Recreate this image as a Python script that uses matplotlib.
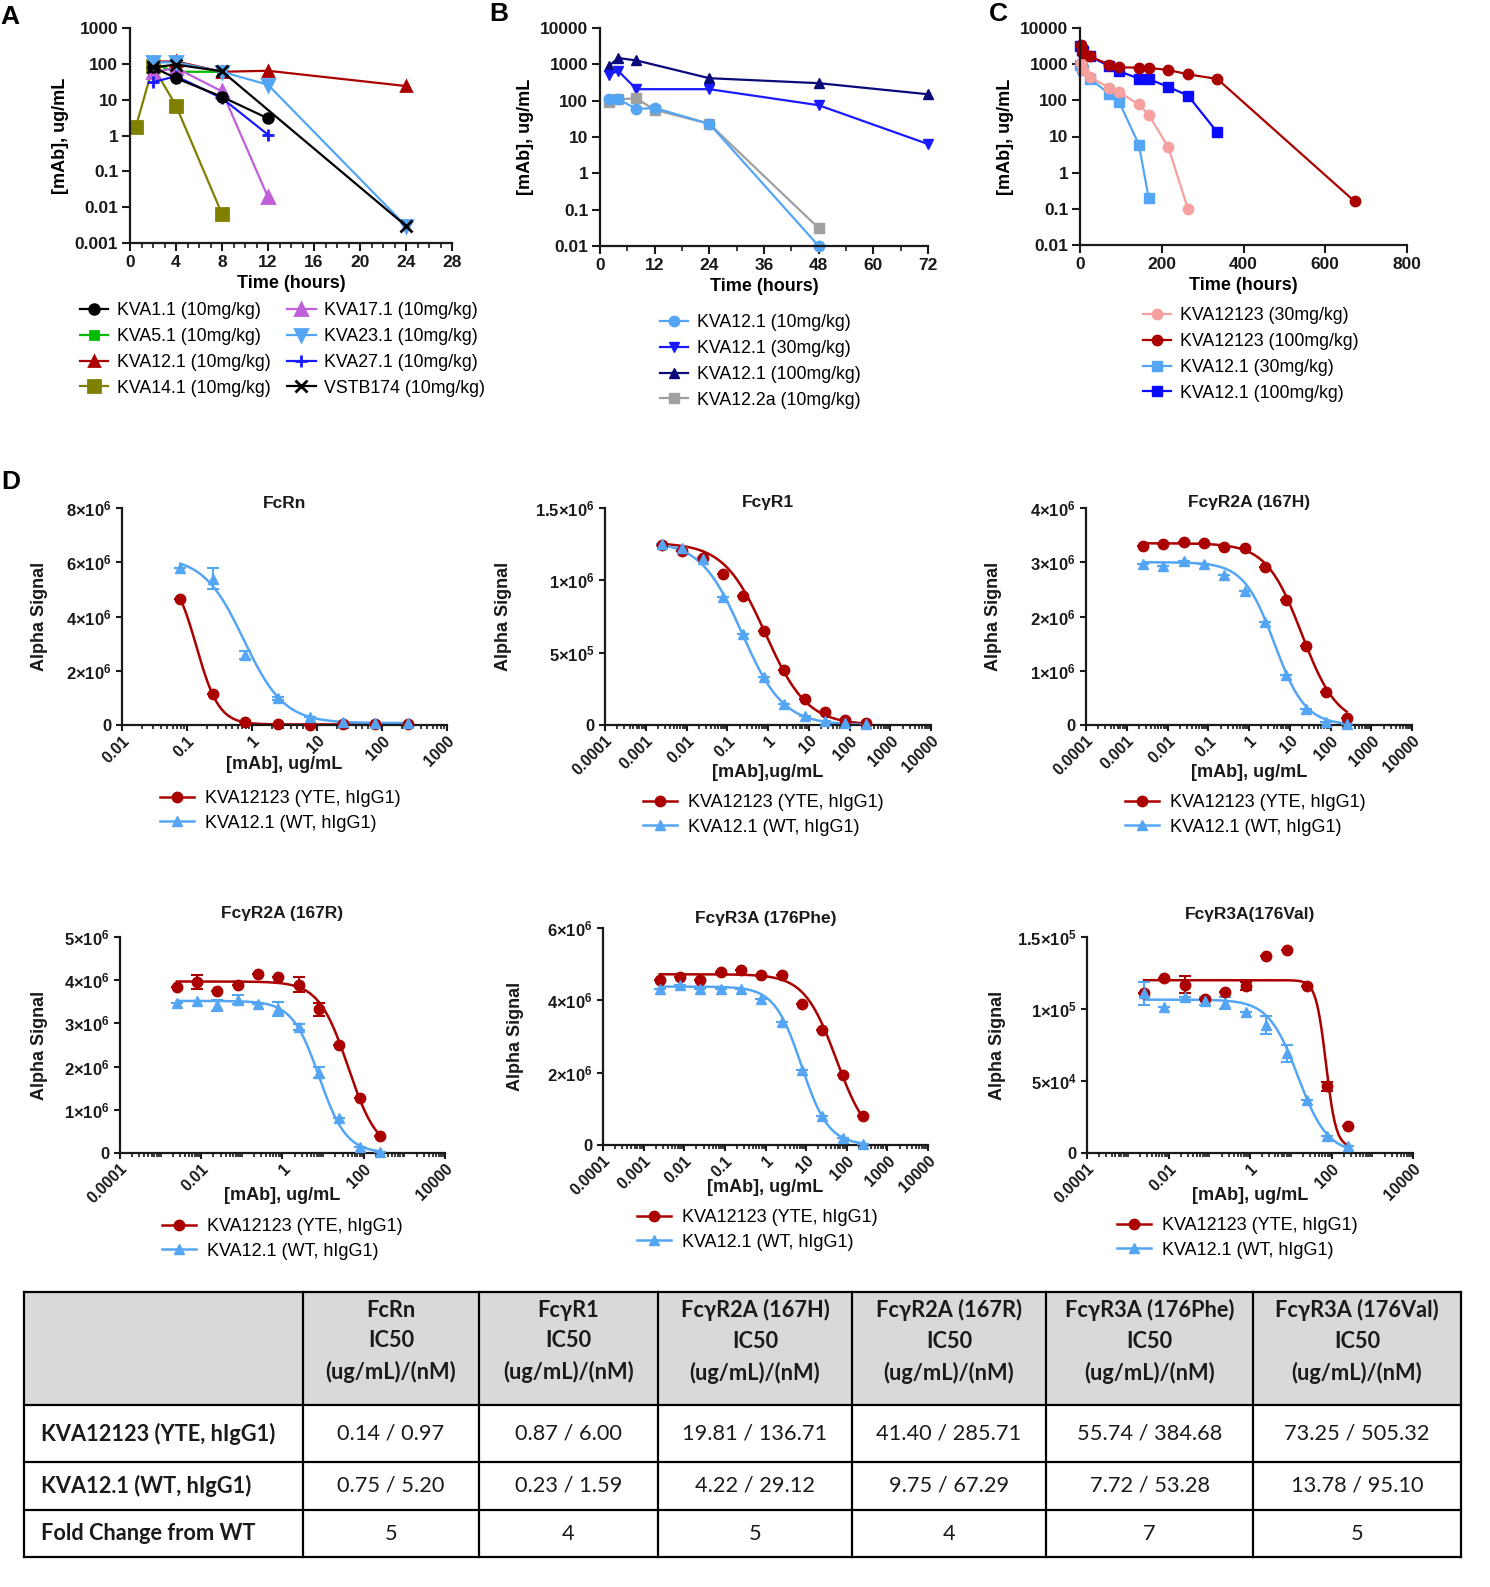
import numpy as np
import matplotlib
matplotlib.use('Agg')
import matplotlib.pyplot as plt
from matplotlib.lines import Line2D
from matplotlib.patches import Rectangle
from matplotlib.ticker import (FixedLocator, FuncFormatter, LogLocator, MultipleLocator,
                               NullFormatter, NullLocator)

plt.rcParams['font.family'] = ['Liberation Sans', 'DejaVu Sans']
plt.rcParams['mathtext.fontset'] = 'custom'
plt.rcParams['mathtext.rm'] = 'Liberation Sans:bold'
plt.rcParams['mathtext.bf'] = 'Liberation Sans:bold'
plt.rcParams['mathtext.default'] = 'rm'

# ---- panel A: PK of the KVA panel, 10 mg/kg ----
a_names = ['KVA1.1 (10mg/kg)', 'KVA5.1 (10mg/kg)', 'KVA12.1 (10mg/kg)', 'KVA14.1 (10mg/kg)',
           'KVA17.1 (10mg/kg)', 'KVA23.1 (10mg/kg)', 'KVA27.1 (10mg/kg)', 'VSTB174 (10mg/kg)']
a_times = [[2, 4, 8, 12],
           [2, 4, 8],
           [2, 4, 8, 12, 24],
           [0.5, 2, 4, 8],
           [2, 4, 8, 12],
           [2, 4, 8, 12, 24],
           [2, 4, 8, 12],
           [2, 4, 8, 24]]
a_conc = [[80, 40, 12, 3],
          [100, 60, 60],
          [115, 117, 60, 64, 24],
          [1.7, 85, 6.8, 0.0065],
          [58, 77, 17, 0.019],
          [110, 110, 60, 26, 0.003],
          [31, 45, 11, 1.05],
          [80, 95, 62, 0.003]]

# ---- panel B: KVA12.1 dose range ----
b_names = ['KVA12.1 (10mg/kg)', 'KVA12.1 (30mg/kg)', 'KVA12.1 (100mg/kg)', 'KVA12.2a (10mg/kg)']
b_times = [[2, 4, 8, 12, 24, 48],
           [2, 4, 8, 24, 48, 72],
           [2, 4, 8, 24, 48, 72],
           [2, 4, 8, 12, 24, 48]]
b_conc = [[112, 110, 59, 63, 23, 0.01],
          [520, 660, 207, 207, 75, 6.4],
          [910, 1490, 1280, 415, 303, 150],
          [91, 110, 115, 56, 23, 0.031]]

# ---- panel C: YTE vs WT ----
c_names = ['KVA12123 (30mg/kg)', 'KVA12123 (100mg/kg)', 'KVA12.1 (30mg/kg)', 'KVA12.1 (100mg/kg)']
c_times = [[2, 8, 24, 72, 96, 144, 168, 216, 264],
           [2, 4, 8, 24, 72, 96, 144, 168, 216, 264, 336, 672],
           [0.5, 4, 8, 24, 72, 96, 144, 168],
           [0.5, 4, 8, 24, 72, 96, 144, 168, 216, 264, 336]]
c_conc = [[1070, 710, 445, 220, 168, 77, 40, 5.1, 0.1],
          [3470, 2530, 2050, 1650, 970, 820, 800, 790, 690, 525, 390, 0.16],
          [970, 760, 710, 400, 150, 89, 6, 0.2],
          [3100, 2500, 2270, 1650, 880, 635, 400, 390, 235, 136, 13]]

# ---- panel D: receptor binding competition ----
d_titles = ['FcRn', 'FcγR1', 'FcγR2A (167H)', 'FcγR2A (167R)', 'FcγR3A (176Phe)', 'FcγR3A(176Val)']
d_xlabels = ['[mAb], ug/mL', '[mAb],ug/mL', '[mAb], ug/mL', '[mAb], ug/mL', '[mAb], ug/mL', '[mAb], ug/mL']
d_series = ['KVA12123 (YTE, hIgG1)', 'KVA12.1 (WT, hIgG1)']

conc_fcrn = [0.079, 0.25, 0.79, 2.5, 7.9, 25, 79, 250]
conc_fcg = [0.0025, 0.0079, 0.025, 0.079, 0.25, 0.79, 2.5, 7.9, 25, 79, 250]
d_conc = [conc_fcrn, conc_fcg, conc_fcg, conc_fcg, conc_fcg, conc_fcg]

yte_signal = [
    [4.64e6, 1.13e6, 0.10e6, 0.03e6, 0.01e6, 0.03e6, 0.03e6, 0.03e6],
    [1.242e6, 1.203e6, 1.157e6, 1.047e6, 0.893e6, 0.649e6, 0.380e6, 0.177e6, 0.092e6, 0.035e6, 0.012e6],
    [3.30e6, 3.33e6, 3.37e6, 3.36e6, 3.28e6, 3.27e6, 2.91e6, 2.30e6, 1.45e6, 0.61e6, 0.135e6],
    [3.85e6, 3.96e6, 3.75e6, 3.90e6, 4.14e6, 4.08e6, 3.90e6, 3.33e6, 2.50e6, 1.28e6, 0.40e6],
    [4.55e6, 4.65e6, 4.55e6, 4.78e6, 4.83e6, 4.71e6, 4.71e6, 3.91e6, 3.17e6, 1.93e6, 0.80e6],
    [1.108e5, 1.212e5, 1.17e5, 1.07e5, 1.115e5, 1.16e5, 1.369e5, 1.412e5, 1.16e5, 0.462e5, 0.185e5]]
wt_signal = [
    [5.77e6, 5.40e6, 2.58e6, 0.98e6, 0.30e6, 0.12e6, 0.08e6, 0.07e6],
    [1.249e6, 1.226e6, 1.150e6, 0.886e6, 0.628e6, 0.329e6, 0.143e6, 0.062e6, 0.030e6, 0.012e6, 0.005e6],
    [2.96e6, 2.94e6, 3.02e6, 2.96e6, 2.76e6, 2.47e6, 1.89e6, 0.93e6, 0.29e6, 0.05e6, 0.01e6],
    [3.48e6, 3.52e6, 3.42e6, 3.55e6, 3.46e6, 3.33e6, 2.92e6, 1.86e6, 0.81e6, 0.14e6, 0.02e6],
    [4.32e6, 4.43e6, 4.31e6, 4.30e6, 4.32e6, 4.03e6, 3.40e6, 2.07e6, 0.80e6, 0.18e6, 0.03e6],
    [1.108e5, 1.015e5, 1.085e5, 1.055e5, 1.043e5, 0.976e5, 0.889e5, 0.692e5, 0.365e5, 0.115e5, 0.05e5]]
yte_err = [
    [0] * 8,
    [0] * 11,
    [0] * 11,
    [0, 0.17e6, 0, 0, 0, 0, 0.17e6, 0.15e6, 0, 0, 0],
    [0] * 11,
    [0, 0, 0.06e5, 0, 0, 0.03e5, 0, 0, 0, 0.03e5, 0]]
wt_err = [
    [0, 0.4e6, 0.15e6, 0.05e6, 0, 0, 0, 0],
    [0] * 11,
    [0] * 11,
    [0, 0, 0.13e6, 0.10e6, 0, 0.17e6, 0.07e6, 0.12e6, 0, 0, 0],
    [0] * 11,
    [0.08e5, 0, 0, 0.03e5, 0.04e5, 0, 0.06e5, 0.06e5, 0, 0, 0]]

# 4PL fit parameters: top, bottom, IC50, hill
yte_fit = [(5.75e6, 0.02e6, 0.14, 2.5), (1.26e6, 0, 0.87, 0.85), (3.35e6, 0, 19.8, 1.0),
           (3.97e6, 0, 41.4, 1.2), (4.72e6, 0, 55.7, 1.1), (1.2e5, 0.04e5, 73.25, 3.5)]
wt_fit = [(6.2e6, 0.07e6, 0.75, 1.4), (1.27e6, 0, 0.23, 0.86), (3.0e6, 0, 4.22, 1.15),
          (3.52e6, 0, 8.0, 1.3), (4.38e6, 0, 7.72, 1.3), (1.065e5, 0, 15.0, 1.2)]

d_yticks = [[0, 2e6, 4e6, 6e6, 8e6], [0, 5e5, 1e6, 1.5e6], [0, 1e6, 2e6, 3e6, 4e6],
            [0, 1e6, 2e6, 3e6, 4e6, 5e6], [0, 2e6, 4e6, 6e6], [0, 5e4, 1e5, 1.5e5]]
d_xticks = [[0.01, 0.1, 1, 10, 100, 1000],
            [1e-4, 1e-3, 0.01, 0.1, 1, 10, 100, 1000, 1e4],
            [1e-4, 1e-3, 0.01, 0.1, 1, 10, 100, 1000, 1e4],
            [1e-4, 0.01, 1, 100, 1e4],
            [1e-4, 1e-3, 0.01, 0.1, 1, 10, 100, 1000, 1e4],
            [1e-4, 0.01, 1, 100, 1e4]]

# ---- table ----
receptors = ['FcRn', 'FcγR1', 'FcγR2A (167H)', 'FcγR2A (167R)', 'FcγR3A (176Phe)', 'FcγR3A (176Val)']
row_labels = ['KVA12123 (YTE, hIgG1)', 'KVA12.1 (WT, hIgG1)', 'Fold Change from WT']
yte_ug = [0.14, 0.87, 19.81, 41.40, 55.74, 73.25]
yte_nm = [0.97, 6.00, 136.71, 285.71, 384.68, 505.32]
wt_ug = [0.75, 0.23, 4.22, 9.75, 7.72, 13.78]
wt_nm = [5.20, 1.59, 29.12, 67.29, 53.28, 95.10]
fold_change = [5, 4, 5, 4, 7, 5]

W, H = 1490, 1587
fig = plt.figure(figsize=(W / 100, H / 100), dpi=100)

DARK_RED = '#aa0000'
LIGHT_BLUE = '#55a5f5'
TXT = '#1a1a1a'


def px_box(l, t, r, b):
    return [l / W, 1 - b / H, (r - l) / W, (b - t) / H]


def base_axes(ax, length=6, pad=3):
    for s in ['top', 'right']:
        ax.spines[s].set_visible(False)
    for s in ['left', 'bottom']:
        ax.spines[s].set_linewidth(1.6)
        ax.spines[s].set_color(TXT)
    ax.tick_params(which='major', direction='out', length=length, width=1.5, colors=TXT, pad=pad)
    ax.tick_params(which='minor', direction='out', length=length * 0.6, width=1.2, colors=TXT)
    ax.patch.set_alpha(0)


def style_pk(ax, xmax, xmajor, xminor, ymin, ymax):
    base_axes(ax, length=6, pad=2.5)
    ax.set_yscale('log')
    ax.set_ylim(ymin, ymax)
    ax.set_xlim(0, xmax)
    ax.xaxis.set_major_locator(MultipleLocator(xmajor))
    if xminor:
        ax.xaxis.set_minor_locator(MultipleLocator(xminor))
    ax.yaxis.set_major_locator(LogLocator(base=10, numticks=20))
    ax.yaxis.set_minor_locator(NullLocator())
    ax.yaxis.set_major_formatter(FuncFormatter(lambda v, p: f'{v:g}'))
    ax.tick_params(labelsize=12.5)
    for lab in ax.get_xticklabels() + ax.get_yticklabels():
        lab.set_fontweight('bold')
    ax.set_xlabel('Time (hours)', fontsize=13, fontweight='bold', labelpad=4)
    ax.set_ylabel('[mAb], ug/mL', fontsize=13, fontweight='bold', labelpad=4)


def pk_legend(ax, handles, labels, x, y, ncol=1):
    ax.legend(handles, labels, loc='upper left', bbox_to_anchor=(x / W, 1 - y / H),
              bbox_transform=fig.transFigure, frameon=False, ncol=ncol, fontsize=12.8,
              handlelength=1.6, handletextpad=0.5, labelspacing=0.5, columnspacing=0.9,
              borderpad=0, borderaxespad=0)


# panel A
ax_a = fig.add_axes(px_box(130, 28, 452, 243))
a_colors = ['black', '#00bb00', DARK_RED, '#808000', '#bf5fd9', LIGHT_BLUE, '#1a1aff', 'black']
a_markers = ['o', 's', '^', 's', '^', 'v', '+', 'x']
a_ms = [7, 6, 6.5, 8, 8, 8, 8, 8]
order = [1, 3, 4, 2, 6, 0, 5, 7]
a_lines = [None] * 8
for i in order:
    ln, = ax_a.plot(a_times[i], a_conc[i], color=a_colors[i], marker=a_markers[i], ms=a_ms[i],
                    mew=2, lw=1.6, clip_on=False)
    a_lines[i] = ln
style_pk(ax_a, 28, 4, 1, 0.001, 1000)
pk_legend(ax_a, a_lines, a_names, 80, 302, ncol=2)

# panel B
ax_b = fig.add_axes(px_box(600, 28, 928, 246))
b_colors = [LIGHT_BLUE, '#1a1aff', '#0a0a7a', '#a0a0a0']
b_markers = ['o', 'v', '^', 's']
b_lines = [None] * 4
for i in [2, 1, 3, 0]:
    ln, = ax_b.plot(b_times[i], b_conc[i], color=b_colors[i], marker=b_markers[i], ms=7.5,
                    lw=1.6, clip_on=False)
    b_lines[i] = ln
style_pk(ax_b, 72, 12, 6, 0.01, 10000)
pk_legend(ax_b, b_lines, b_names, 660, 314)

# panel C
ax_c = fig.add_axes(px_box(1080, 28, 1407, 245))
c_colors = ['#f7a0a0', DARK_RED, LIGHT_BLUE, '#0a0aff']
c_markers = ['o', 'o', 's', 's']
c_lines = [None] * 4
for i in [3, 2, 0, 1]:
    ln, = ax_c.plot(c_times[i], c_conc[i], color=c_colors[i], marker=c_markers[i], ms=7.5,
                    lw=1.6, clip_on=False)
    c_lines[i] = ln
style_pk(ax_c, 800, 200, None, 0.01, 10000)
pk_legend(ax_c, c_lines, c_names, 1143, 307)


def sci_label(v, p=None):
    if v == 0:
        return '0'
    e = int(np.floor(np.log10(v) + 1e-9))
    m = v / 10 ** e
    return rf'${m:g}{{\times}}10^{{{e}}}$'


def four_pl(x, top, bottom, ic50, hill):
    return bottom + (top - bottom) / (1 + (x / ic50) ** hill)


d_boxes = [(122, 508, 447, 725), (605, 508, 931, 725), (1086, 508, 1412, 725),
           (120, 937, 445, 1153), (603, 928, 928, 1145), (1087, 937, 1413, 1153)]
d_xlims = [(0.01, 1000), (1e-4, 1e4), (1e-4, 1e4), (1e-4, 1e4), (1e-4, 1e4), (1e-4, 1e4)]
d_title_y = [503, 503, 503, 913, 918, 914]
d_xlabel_y = [764, 772, 772, 1195, 1188, 1195]
d_ylabel_x = [40, 503, 993, 40, 515, 997]
d_leg_pos = [(160, 790), (643, 794), (1125, 794), (162, 1218), (637, 1209), (1117, 1217)]

for k in range(6):
    l, t, r, b = d_boxes[k]
    ax = fig.add_axes(px_box(l, t, r, b))
    base_axes(ax, length=4.5, pad=1.5)
    ax.set_xscale('log')
    ax.set_xlim(*d_xlims[k])
    ax.set_ylim(0, d_yticks[k][-1])
    x = np.array(d_conc[k])
    xs = np.logspace(np.log10(x[0]), np.log10(x[-1]), 300)
    for sig, err, fit, col, mk in [(yte_signal[k], yte_err[k], yte_fit[k], DARK_RED, 'o'),
                                   (wt_signal[k], wt_err[k], wt_fit[k], LIGHT_BLUE, '^')]:
        ax.plot(xs, four_pl(xs, *fit), color=col, lw=1.8, clip_on=False, zorder=2)
        ax.errorbar(x, sig, yerr=err, fmt=mk, color=col, ms=7.5, capsize=4, elinewidth=1.5,
                    capthick=1.5, clip_on=False, zorder=3)
    ax.xaxis.set_major_locator(FixedLocator(d_xticks[k]))
    ax.xaxis.set_minor_locator(LogLocator(base=10, subs=np.arange(1, 10), numticks=40))
    ax.xaxis.set_major_formatter(FuncFormatter(lambda v, p: f'{v:g}'))
    ax.xaxis.set_minor_formatter(NullFormatter())
    ax.yaxis.set_major_locator(FixedLocator(d_yticks[k]))
    ax.yaxis.set_major_formatter(FuncFormatter(sci_label))
    ax.tick_params(axis='y', labelsize=12, pad=3)
    ax.tick_params(axis='x', labelsize=11.5)
    for lab in ax.get_xticklabels():
        lab.set_rotation(45)
        lab.set_ha('right')
        lab.set_rotation_mode('anchor')
        lab.set_fontweight('bold')
    for lab in ax.get_yticklabels():
        lab.set_fontweight('bold')
    ax.text(0.5, (b - d_xlabel_y[k]) / (b - t), d_xlabels[k], transform=ax.transAxes,
            ha='center', va='center', fontsize=13, fontweight='bold', color=TXT)
    ax.text((d_ylabel_x[k] - l) / (r - l), 0.5, 'Alpha Signal', transform=ax.transAxes,
            rotation=90, ha='center', va='center', fontsize=13, fontweight='bold', color=TXT)
    ax.text(0.5, 1 + (t - d_title_y[k]) / (b - t), d_titles[k], transform=ax.transAxes,
            ha='center', va='center', fontsize=12.5, fontweight='bold', color=TXT)
    handles = [Line2D([], [], color=DARK_RED, marker='o', ms=7.5, lw=1.8),
               Line2D([], [], color=LIGHT_BLUE, marker='^', ms=7.5, lw=1.8)]
    lx, ly = d_leg_pos[k]
    ax.legend(handles, d_series, loc='upper left', bbox_to_anchor=(lx / W, 1 - ly / H),
              bbox_transform=fig.transFigure, frameon=False, fontsize=13, handlelength=1.9,
              handletextpad=0.6, labelspacing=0.42, borderpad=0, borderaxespad=0)

# panel letters and table drawn in figure pixel coordinates
tab = fig.add_axes([0, 0, 1, 1])
tab.set_xlim(0, W)
tab.set_ylim(H, 0)
tab.axis('off')
tab.set_zorder(-1)
for s, (lx, ly) in zip('ABCD', [(10, 17), (499, 14), (998, 14), (11, 482)]):
    tab.text(lx, ly, s, ha='center', va='center', fontsize=19, fontweight='bold', color='black')

col_edges = [24, 303, 479, 658, 852, 1046, 1253, 1461]
row_edges = [1292, 1405, 1462, 1510, 1557]
tab.add_patch(Rectangle((col_edges[0], row_edges[0]), col_edges[-1] - col_edges[0],
                        row_edges[1] - row_edges[0], facecolor='#d9d9d9', edgecolor='none'))
for xe in col_edges:
    tab.plot([xe, xe], [row_edges[0], row_edges[-1]], color='black', lw=1.6)
for ye in row_edges:
    tab.plot([col_edges[0], col_edges[-1]], [ye, ye], color='black', lw=1.6)

tfont = ['Lato', 'Noto Sans', 'DejaVu Sans']
cells = [[f'{a:.2f} / {b:.2f}' for a, b in zip(yte_ug, yte_nm)],
         [f'{a:.2f} / {b:.2f}' for a, b in zip(wt_ug, wt_nm)],
         [str(f) for f in fold_change]]
for j, rec in enumerate(receptors):
    cx = (col_edges[j + 1] + col_edges[j + 2]) / 2
    tab.text(cx, (row_edges[0] + row_edges[1]) / 2 - 7, f'{rec}\nIC50\n(ug/mL)/(nM)', ha='center',
             va='center', fontsize=15.7, fontweight='bold', family=tfont, linespacing=1.55,
             color=TXT)
    for i in range(3):
        cy = (row_edges[i + 1] + row_edges[i + 2]) / 2
        tab.text(cx, cy, cells[i][j], ha='center', va='center', fontsize=15.7, family=tfont,
                 color=TXT)
for i, lab in enumerate(row_labels):
    cy = (row_edges[i + 1] + row_edges[i + 2]) / 2
    tab.text(41, cy, lab, ha='left', va='center', fontsize=15.7, fontweight='bold', family=tfont,
             color=TXT)

fig.savefig('out.png', dpi=100)
